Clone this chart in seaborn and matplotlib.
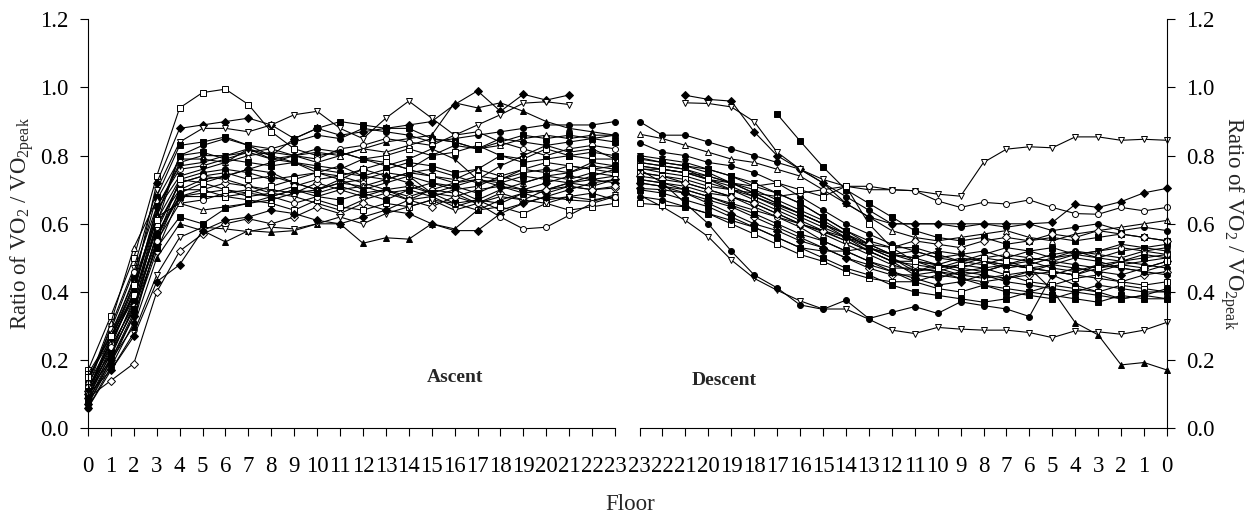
import numpy as np
import pandas as pd
import matplotlib
matplotlib.use("Agg")
import matplotlib.pyplot as plt
import seaborn as sns
from matplotlib.ticker import FormatStrFormatter, MultipleLocator

nan = np.nan

# ---------------- DATA ----------------
ascent_floors = list(range(0, 24))           # floor 0 .. 23
descent_floors = list(range(23, -1, -1))     # floor 23 .. 0
y_ticks = [0.0, 0.2, 0.4, 0.6, 0.8, 1.0, 1.2]

# Ascent: ratio VO2/VO2peak per subject, floors 0..23
asc_01 = [0.17,0.33,0.50,0.74,0.94,0.985,0.995,0.95,0.87,0.82,0.80,0.81,0.79,0.80,0.82,0.80,0.81,0.83,0.80,0.79,0.82,0.80,0.79,0.79]
asc_02 = [0.10,0.26,0.42,0.72,0.88,0.89,0.90,0.91,0.89,0.85,0.88,0.86,0.87,0.88,0.89,0.90,0.95,0.99,0.93,0.98,0.963,0.978,nan,nan]
asc_03 = [0.12,0.30,0.47,0.70,0.84,0.88,0.88,0.87,0.89,0.92,0.93,0.88,0.85,0.91,0.96,0.91,0.86,0.89,0.92,0.954,0.958,0.95,nan,nan]
asc_04 = [0.09,0.22,0.38,0.62,0.80,0.83,0.85,0.83,0.82,0.84,0.86,0.85,0.88,0.87,0.86,0.84,0.85,0.86,0.87,0.88,0.89,0.89,0.89,0.90]
asc_05 = [0.11,0.27,0.44,0.68,0.83,0.84,0.855,0.83,0.80,0.85,0.88,0.90,0.89,0.88,0.88,0.85,0.84,0.82,0.84,0.86,0.85,0.86,0.85,0.84]
asc_06 = [0.10,0.25,0.40,0.63,0.78,0.80,0.80,0.81,0.79,0.80,0.81,0.80,0.82,0.84,0.85,0.86,0.955,0.94,0.955,0.93,0.90,0.88,0.87,0.86]
asc_07 = [0.13,0.31,0.53,0.67,0.79,0.79,0.78,0.80,0.81,0.80,0.78,0.80,0.82,0.81,0.83,0.85,0.84,0.82,0.83,0.85,0.86,0.85,0.86,0.86]
asc_08 = [0.14,0.29,0.46,0.65,0.76,0.77,0.79,0.81,0.82,0.80,0.79,0.82,0.83,0.85,0.84,0.83,0.86,0.87,0.84,0.82,0.80,0.82,0.83,0.82]
asc_09 = [0.08,0.21,0.36,0.60,0.80,0.81,0.79,0.78,0.77,0.78,0.76,0.75,0.74,0.76,0.78,0.77,0.75,0.76,0.80,0.78,0.79,0.80,0.81,0.80]
asc_10 = [0.09,0.24,0.40,0.65,0.77,0.78,0.80,0.82,0.79,0.78,0.77,0.76,0.79,0.77,0.79,0.82,0.79,0.73,0.77,0.80,0.83,0.81,0.82,0.79]
asc_11 = [0.16,0.27,0.39,0.58,0.72,0.74,0.75,0.73,0.74,0.72,0.70,0.72,0.73,0.75,0.74,0.72,0.70,0.71,0.74,0.76,0.75,0.77,0.76,0.77]
asc_12 = [0.06,0.18,0.31,0.55,0.73,0.75,0.76,0.75,0.73,0.74,0.75,0.77,0.74,0.73,0.75,0.76,0.74,0.72,0.73,0.75,0.76,0.75,0.77,0.76]
asc_13 = [0.11,0.20,0.33,0.52,0.68,0.70,0.72,0.71,0.70,0.69,0.72,0.70,0.68,0.70,0.71,0.69,0.68,0.70,0.71,0.70,0.69,0.71,0.70,0.705]
asc_14 = [0.12,0.22,0.35,0.57,0.68,0.69,0.70,0.68,0.69,0.68,0.66,0.64,0.67,0.69,0.70,0.68,0.65,0.67,0.64,0.66,0.68,0.67,0.665,0.685]
asc_15 = [0.07,0.19,0.33,0.54,0.70,0.73,0.74,0.76,0.75,0.72,0.70,0.73,0.76,0.74,0.72,0.69,0.71,0.73,0.72,0.70,0.72,0.74,0.73,0.72]
asc_16 = [0.15,0.26,0.38,0.59,0.72,0.74,0.73,0.71,0.69,0.71,0.73,0.74,0.72,0.70,0.68,0.70,0.72,0.73,0.71,0.69,0.70,0.72,0.71,0.73]
asc_17 = [0.10,0.23,0.37,0.56,0.68,0.68,0.68,0.69,0.68,0.70,0.68,0.67,0.69,0.70,0.67,0.68,0.70,0.67,0.66,0.69,0.67,0.68,0.69,0.67]
asc_18 = [0.13,0.25,0.39,0.60,0.70,0.70,0.68,0.67,0.66,0.64,0.67,0.65,0.64,0.66,0.65,0.67,0.66,0.64,0.65,0.63,0.66,0.64,0.65,0.66]
asc_19 = [0.08,0.20,0.30,0.50,0.60,0.58,0.547,0.58,0.575,0.58,0.60,0.60,0.543,0.559,0.555,0.60,0.585,0.64,0.67,0.69,0.70,0.72,0.73,0.74]
asc_20 = [0.09,0.14,0.19,0.40,0.52,0.57,0.60,0.615,0.60,0.62,0.65,0.63,0.66,0.64,0.67,0.65,0.68,0.66,0.69,0.67,0.70,0.71,0.70,0.71]
asc_21 = [0.10,0.17,0.28,0.45,0.56,0.59,0.585,0.577,0.59,0.585,0.60,0.62,0.60,0.63,0.65,0.67,0.64,0.66,0.68,0.67,0.66,0.68,0.67,0.68]
asc_22 = [0.06,0.17,0.27,0.43,0.48,0.58,0.61,0.62,0.64,0.63,0.61,0.60,0.62,0.64,0.63,0.60,0.58,0.58,0.63,0.66,0.68,0.70,0.72,0.73]
asc_23 = [0.12,0.24,0.36,0.55,0.66,0.67,0.69,0.70,0.68,0.66,0.68,0.70,0.71,0.69,0.67,0.70,0.69,0.66,0.62,0.585,0.59,0.625,0.66,0.68]
asc_24 = [0.14,0.28,0.43,0.62,0.66,0.64,0.65,0.66,0.67,0.69,0.70,0.72,0.71,0.73,0.75,0.74,0.73,0.76,0.74,0.72,0.74,0.73,0.75,0.74]
asc_25 = [0.11,0.26,0.41,0.64,0.74,0.76,0.78,0.82,0.80,0.78,0.75,0.73,0.70,0.72,0.74,0.69,0.66,0.67,0.70,0.72,0.74,0.75,0.78,0.77]
asc_26 = [0.07,0.20,0.34,0.57,0.69,0.72,0.74,0.76,0.78,0.80,0.82,0.81,0.79,0.78,0.76,0.80,0.83,0.82,0.85,0.84,0.83,0.84,0.85,0.86]
asc_27 = [0.15,0.27,0.42,0.61,0.73,0.72,0.70,0.69,0.71,0.73,0.75,0.74,0.76,0.78,0.76,0.74,0.72,0.74,0.73,0.76,0.78,0.77,0.76,0.75]
asc_28 = [0.09,0.22,0.35,0.53,0.62,0.60,0.645,0.66,0.68,0.70,0.69,0.71,0.69,0.67,0.70,0.72,0.71,0.69,0.72,0.74,0.73,0.72,0.74,0.76]

# Descent: ratio VO2/VO2peak per subject, floors 23..0
des_01 = [0.90,0.86,0.86,0.84,0.82,0.80,0.78,0.76,0.72,0.68,0.64,0.60,0.60,0.60,0.59,0.60,0.59,0.60,0.58,0.59,0.60,0.58,0.59,0.58]
des_02 = [0.863,0.85,0.83,0.81,0.79,0.78,0.76,0.74,0.70,0.66,0.62,0.58,0.56,0.55,0.56,0.57,0.58,0.56,0.55,0.57,0.58,0.59,0.60,0.61]
des_03 = [0.838,0.81,0.80,0.78,0.77,0.75,0.72,0.68,0.64,0.60,0.57,0.54,0.52,0.50,0.51,0.52,0.50,0.49,0.51,0.52,0.50,0.49,0.51,0.50]
des_04 = [0.794,0.78,0.77,0.76,0.74,0.71,0.69,0.66,0.62,0.58,0.55,0.53,0.53,0.51,0.49,0.48,0.50,0.52,0.53,0.51,0.50,0.52,0.53,0.54]
des_05 = [0.763,0.75,0.74,0.72,0.70,0.67,0.64,0.61,0.58,0.55,0.52,0.49,0.49,0.48,0.46,0.47,0.48,0.50,0.49,0.48,0.47,0.49,0.48,0.47]
des_06 = [0.704,0.70,0.69,0.67,0.65,0.62,0.59,0.56,0.53,0.50,0.47,0.45,0.45,0.46,0.44,0.43,0.44,0.45,0.46,0.45,0.44,0.43,0.45,0.46]
des_07 = [0.75,0.74,0.72,0.70,0.68,0.65,0.62,0.59,0.55,0.52,0.49,0.47,0.47,0.46,0.48,0.47,0.45,0.46,0.48,0.47,0.46,0.48,0.49,0.50]
des_08 = [nan,nan,0.977,0.965,0.96,0.87,0.80,0.76,0.72,0.66,0.62,0.60,0.60,0.60,0.60,0.60,0.60,0.60,0.604,0.657,0.648,0.665,0.691,0.704]
des_09 = [nan,nan,0.955,0.953,0.943,0.90,0.81,0.76,0.73,0.71,0.70,0.70,0.697,0.687,0.681,0.78,0.819,0.826,0.823,0.855,0.855,0.845,0.848,0.845]
des_10 = [0.78,0.77,0.76,0.73,0.70,0.69,0.68,0.69,0.70,0.71,0.71,0.70,0.697,0.667,0.648,0.663,0.658,0.670,0.648,0.63,0.628,0.648,0.638,0.648]
des_11 = [nan,nan,nan,nan,nan,nan,0.922,0.843,0.767,0.70,0.66,0.62,0.58,0.56,0.55,0.56,0.54,0.55,0.56,0.55,0.56,0.57,0.56,0.55]
des_12 = [0.78,0.77,0.76,0.74,0.72,0.69,0.66,0.63,0.60,0.57,0.54,0.51,0.49,0.48,0.47,0.49,0.48,0.47,0.406,0.31,0.274,0.186,0.193,0.171]
des_13 = [0.684,0.65,0.61,0.562,0.494,0.44,0.405,0.374,0.35,0.35,0.32,0.288,0.278,0.296,0.291,0.288,0.288,0.281,0.266,0.286,0.283,0.276,0.288,0.311]
des_14 = [0.76,0.72,0.66,0.60,0.52,0.45,0.412,0.362,0.349,0.376,0.322,0.340,0.357,0.337,0.371,0.36,0.350,0.328,0.45,0.42,0.40,0.38,0.39,0.38]
des_15 = [0.75,0.74,0.73,0.71,0.70,0.68,0.655,0.63,0.60,0.57,0.53,0.50,0.47,0.46,0.45,0.44,0.45,0.43,0.42,0.44,0.45,0.43,0.42,0.43]
des_16 = [0.77,0.76,0.75,0.74,0.72,0.70,0.67,0.64,0.61,0.57,0.53,0.50,0.46,0.47,0.45,0.46,0.48,0.47,0.46,0.45,0.48,0.49,0.50,0.51]
des_17 = [0.72,0.71,0.70,0.68,0.66,0.64,0.62,0.60,0.577,0.55,0.52,0.49,0.48,0.47,0.49,0.50,0.51,0.50,0.49,0.51,0.52,0.53,0.52,0.51]
des_18 = [0.80,0.79,0.78,0.76,0.74,0.72,0.69,0.66,0.62,0.58,0.54,0.51,0.50,0.52,0.51,0.49,0.48,0.47,0.48,0.50,0.49,0.47,0.46,0.48]
des_19 = [0.73,0.72,0.71,0.69,0.68,0.66,0.63,0.60,0.57,0.54,0.51,0.48,0.46,0.48,0.50,0.49,0.47,0.48,0.50,0.52,0.51,0.50,0.52,0.53]
des_20 = [0.72,0.71,0.69,0.66,0.63,0.60,0.58,0.55,0.53,0.50,0.48,0.46,0.44,0.42,0.43,0.45,0.44,0.46,0.45,0.47,0.46,0.45,0.47,0.49]
des_21 = [0.66,0.655,0.65,0.63,0.60,0.57,0.54,0.51,0.49,0.46,0.44,0.43,0.43,0.41,0.40,0.42,0.41,0.40,0.42,0.41,0.40,0.42,0.41,0.40]
des_22 = [0.70,0.69,0.67,0.65,0.62,0.59,0.56,0.53,0.50,0.47,0.45,0.42,0.40,0.39,0.38,0.37,0.38,0.40,0.39,0.38,0.37,0.39,0.38,0.38]
des_23 = [0.68,0.67,0.65,0.63,0.61,0.59,0.56,0.53,0.52,0.52,0.53,0.51,0.50,0.48,0.47,0.46,0.48,0.49,0.47,0.46,0.48,0.47,0.46,0.45]
des_24 = [0.74,0.73,0.72,0.70,0.68,0.66,0.63,0.60,0.58,0.56,0.54,0.53,0.55,0.54,0.53,0.55,0.56,0.55,0.57,0.56,0.58,0.57,0.56,0.55]
des_25 = [0.76,0.76,0.75,0.73,0.71,0.68,0.65,0.62,0.59,0.56,0.53,0.51,0.52,0.50,0.49,0.51,0.53,0.52,0.50,0.51,0.52,0.54,0.53,0.52]
des_26 = [0.77,0.76,0.75,0.73,0.72,0.71,0.72,0.70,0.68,0.71,0.60,0.53,0.49,0.47,0.48,0.50,0.49,0.47,0.46,0.45,0.47,0.48,0.47,0.49]
des_27 = [0.79,0.78,0.77,0.75,0.72,0.69,0.66,0.63,0.60,0.56,0.52,0.49,0.45,0.44,0.46,0.45,0.43,0.42,0.41,0.40,0.42,0.41,0.40,0.40]
des_28 = [0.73,0.72,0.70,0.68,0.655,0.63,0.60,0.57,0.55,0.52,0.49,0.46,0.43,0.45,0.44,0.42,0.40,0.39,0.38,0.40,0.39,0.38,0.39,0.41]

ascent_series = [asc_01, asc_02, asc_03, asc_04, asc_05, asc_06, asc_07, asc_08, asc_09, asc_10,
                 asc_11, asc_12, asc_13, asc_14, asc_15, asc_16, asc_17, asc_18, asc_19, asc_20,
                 asc_21, asc_22, asc_23, asc_24, asc_25, asc_26, asc_27, asc_28]
descent_series = [des_01, des_02, des_03, des_04, des_05, des_06, des_07, des_08, des_09, des_10,
                  des_11, des_12, des_13, des_14, des_15, des_16, des_17, des_18, des_19, des_20,
                  des_21, des_22, des_23, des_24, des_25, des_26, des_27, des_28]

# ---------------- STYLES ----------------
asc_styles = [('s', False), ('D', True), ('v', False), ('o', True), ('s', True), ('^', True), ('^', False),
              ('o', False), ('s', True), ('v', True), ('s', False), ('o', True), ('D', False), ('v', False),
              ('D', True), ('o', False), ('s', True), ('s', False), ('^', True), ('D', False), ('v', False),
              ('D', True), ('o', False), ('^', False), ('v', True), ('o', True), ('s', False), ('s', True)]
des_styles = [('o', True), ('^', False), ('o', True), ('s', True), ('o', True), ('D', False), ('v', True),
              ('D', True), ('v', False), ('o', False), ('s', True), ('^', True), ('v', False), ('o', True),
              ('s', False), ('s', True), ('o', False), ('v', True), ('^', False), ('D', True), ('s', False),
              ('s', True), ('o', True), ('D', False), ('v', True), ('s', False), ('o', True), ('s', True)]

sns.set_style("ticks")
plt.rcParams['font.family'] = ['Liberation Serif', 'DejaVu Serif']
plt.rcParams['mathtext.fontset'] = 'custom'
plt.rcParams['mathtext.rm'] = 'Liberation Serif'
plt.rcParams['mathtext.it'] = 'Liberation Serif:italic'
plt.rcParams['mathtext.bf'] = 'Liberation Serif:bold'

W, H = 1258, 518
fig = plt.figure(figsize=(W / 100, H / 100), dpi=100)
y0 = 428.3
y1 = 19.3
ax1 = fig.add_axes([88 / W, (H - y0) / H, (615 - 88) / W, (y0 - y1) / H])
ax2 = fig.add_axes([639.5 / W, (H - y0) / H, (1167 - 639.5) / W, (y0 - y1) / H])

ms = {'o': 4.3, 's': 4.0, '^': 4.6, 'v': 4.6, 'D': 3.7}


def draw(ax, floors, series, styles):
    for vals, (m, filled) in zip(series, styles):
        df = pd.DataFrame({'floor': floors, 'ratio': vals}).dropna()
        sns.lineplot(data=df, x='floor', y='ratio', ax=ax, estimator=None, sort=False,
                     color='black', linewidth=0.8, marker=m, markersize=ms[m],
                     markerfacecolor='black' if filled else 'white',
                     markeredgecolor='black', markeredgewidth=0.7, clip_on=False)


draw(ax1, ascent_floors, ascent_series, asc_styles)
draw(ax2, descent_floors, descent_series, des_styles)

tick_fs = 16.5
for ax in (ax1, ax2):
    ax.set_ylim(0, 1.2)
    ax.set_yticks(y_ticks)
    ax.yaxis.set_major_formatter(FormatStrFormatter('%.1f'))
    ax.xaxis.set_major_locator(MultipleLocator(1))
    ax.set_xlabel('')
    ax.set_ylabel('')
    ax.spines['top'].set_visible(False)
    for s in ax.spines.values():
        s.set_linewidth(0.8)
        s.set_color('black')
    ax.tick_params(axis='x', direction='out', length=6, width=0.8, pad=14,
                   labelsize=tick_fs, colors='black')
    ax.tick_params(axis='y', direction='out', length=6, width=0.8, pad=8,
                   labelsize=tick_fs, colors='black')

ax1.set_xlim(0, 23)
ax1.spines['right'].set_visible(False)
ax1.set_xticks(ascent_floors)
ax1.set_xticklabels([str(f) for f in ascent_floors])

ax2.set_xlim(23, 0)
ax2.spines['left'].set_visible(False)
ax2.yaxis.tick_right()
ax2.yaxis.set_label_position('right')
ax2.set_xticks(descent_floors)
ax2.set_xticklabels([str(f) for f in descent_floors])

ylab = r'Ratio of VO$_2$ / VO$_{\mathrm{2peak}}$'
ax1.set_ylabel(ylab, fontsize=tick_fs, labelpad=3)
ax2.set_ylabel(ylab, fontsize=tick_fs, rotation=270, labelpad=22)

ax1.text(16.0, 0.15, 'Ascent', fontsize=14, fontweight='bold', ha='center', va='center')
ax2.text(19.3, 0.14, 'Descent', fontsize=14, fontweight='bold', ha='center', va='center')

fig.text(630 / W, (H - 505) / H, 'Floor', fontsize=tick_fs, ha='center', va='center')

fig.savefig('out.png', dpi=100)
